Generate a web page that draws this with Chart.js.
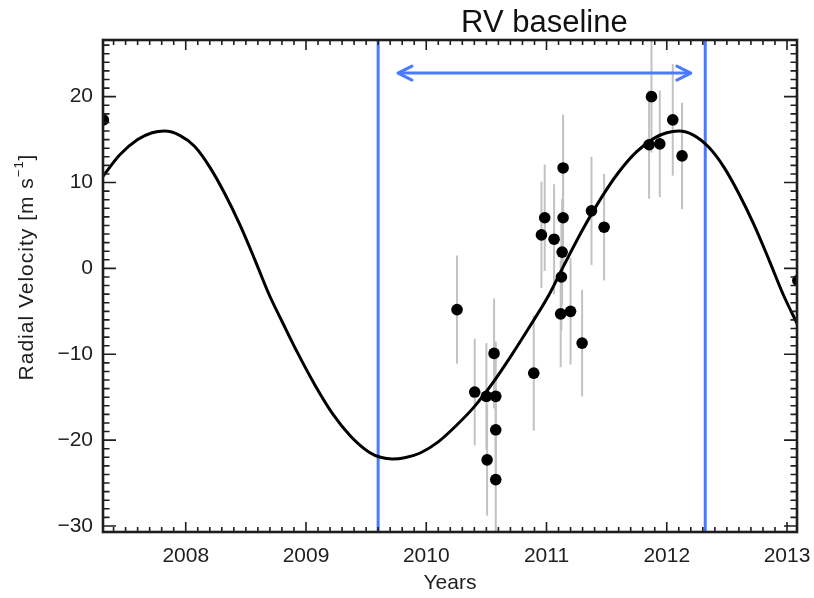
<!DOCTYPE html>
<html>
<head>
<meta charset="utf-8">
<title>RV baseline</title>
<script src="https://cdn.jsdelivr.net/npm/chart.js@4.4.1/dist/chart.umd.min.js"></script>
<style>
  html, body { margin: 0; padding: 0; background: #fff; }
  canvas { display: block; }
</style>
</head>
<body>
<canvas id="rv" width="814" height="598"></canvas>
<script>
// Observation epochs (decimal years), radial velocities and 1-sigma errors [m/s]
const obsYears = [2010.256, 2010.403, 2010.500, 2010.506, 2010.564, 2010.578, 2010.578, 2010.578,
                  2010.894, 2010.958, 2010.985, 2011.063, 2011.118, 2011.124, 2011.130, 2011.138,
                  2011.138, 2011.200, 2011.296, 2011.374, 2011.479, 2011.853, 2011.873, 2011.942,
                  2012.050, 2012.127];
const obsVelocity = [-4.8, -14.4, -14.9, -22.3, -9.9, -14.9, -18.8, -24.6,
                     -12.2, 3.9, 5.9, 3.4, -5.3, -1.0, 1.9, 5.9,
                     11.7, -5.0, -8.7, 6.7, 4.8, 14.4, 20.0, 14.5,
                     17.3, 13.1];
const obsError = [6.3, 6.2, 6.2, 6.5, 6.4, 6.4, 6.4, 6.5,
                  6.7, 6.2, 6.2, 6.4, 6.2, 6.2, 6.2, 6.2,
                  6.2, 6.2, 6.2, 6.3, 6.2, 6.3, 6.5, 6.2,
                  6.5, 6.2];

// Measurements sitting on the plot border (mostly outside the frame)
const edgeYears = [2007.315, 2013.09];
const edgeVelocity = [17.3, -1.4];

// Orbital solution sampled along time
const modelYears = [2007.31, 2007.45, 2007.60, 2007.72, 2007.825, 2007.95, 2008.075, 2008.20,
                    2008.325, 2008.45, 2008.575, 2008.695, 2008.805, 2008.925, 2009.075, 2009.225,
                    2009.375, 2009.525, 2009.62, 2009.72, 2009.82, 2009.95, 2010.10, 2010.25,
                    2010.40, 2010.55, 2010.70, 2010.85, 2011.02, 2011.15, 2011.30, 2011.45,
                    2011.60, 2011.75, 2011.90, 2012.00, 2012.10, 2012.225, 2012.35, 2012.475,
                    2012.60, 2012.725, 2012.85, 2012.97, 2013.09];
const modelVelocity = [10.7, 13.2, 15.0, 15.8, 16.0, 15.5, 14.2, 11.8,
                       8.7, 5.1, 1.0, -3.1, -6.3, -9.7, -13.6, -17.0,
                       -19.6, -21.4, -22.0, -22.2, -22.06, -21.5, -20.2, -18.3,
                       -16.1, -13.4, -10.3, -7.0, -3.1, 0.5, 4.5, 8.1,
                       11.2, 13.6, 15.2, 15.8, 16.0, 15.5, 14.1, 11.8,
                       8.7, 5.1, 1.0, -3.1, -6.6];

// Start and end of the RV baseline, and the arrow spanning it
const baselineEdges = [2009.60, 2012.32];
const arrowEnds = [2009.765, 2012.20];
const arrowLevel = 22.75;

// Axis ranges, labelled ticks and minor tick steps
const yearRange = [2007.312, 2013.083];
const velocityRange = [-30.7, 26.6];
const yearTicks = [2008, 2009, 2010, 2011, 2012, 2013];
const velocityTicks = [-30, -20, -10, 0, 10, 20];
const yearMinorStep = 0.1;
const velocityMinorStep = 1;

const FONT = '"Liberation Sans", Arial, Helvetica, sans-serif';
const INK = '#1e1e1e';
const BLUE = '#4a7bff';

// Gray error bars, drawn underneath everything else
const errorBars = {
  id: 'errorBars',
  beforeDatasetsDraw(chart) {
    const { ctx, chartArea: a, scales: { x, y } } = chart;
    ctx.save();
    ctx.beginPath();
    ctx.rect(a.left, a.top, a.right - a.left, a.bottom - a.top);
    ctx.clip();
    ctx.strokeStyle = '#c2c2c2';
    ctx.lineWidth = 2;
    obsYears.forEach((t, i) => {
      const px = x.getPixelForValue(t);
      ctx.beginPath();
      ctx.moveTo(px, y.getPixelForValue(obsVelocity[i] - obsError[i]));
      ctx.lineTo(px, y.getPixelForValue(obsVelocity[i] + obsError[i]));
      ctx.stroke();
    });
    ctx.restore();
  }
};

// Open chevron heads on both ends of the baseline arrow
const arrowHeads = {
  id: 'arrowHeads',
  afterDatasetsDraw(chart) {
    const { ctx, scales: { x, y } } = chart;
    const py = y.getPixelForValue(arrowLevel);
    ctx.save();
    ctx.strokeStyle = BLUE;
    ctx.lineWidth = 3;
    ctx.lineCap = 'round';
    ctx.lineJoin = 'round';
    [[x.getPixelForValue(arrowEnds[0]), 1], [x.getPixelForValue(arrowEnds[1]), -1]].forEach(([px, dir]) => {
      ctx.beginPath();
      ctx.moveTo(px + dir * 14, py - 7);
      ctx.lineTo(px, py);
      ctx.lineTo(px + dir * 14, py + 7);
      ctx.stroke();
    });
    ctx.restore();
  }
};

// Box frame with inward major/minor ticks on all four sides
const frameTicks = {
  id: 'frameTicks',
  afterDatasetsDraw(chart) {
    const { ctx, chartArea: a, scales: { x, y } } = chart;
    ctx.save();
    ctx.strokeStyle = INK;
    ctx.lineWidth = 1.6;
    ctx.beginPath();
    const x0 = Math.ceil(yearRange[0] / yearMinorStep);
    const x1 = Math.floor(yearRange[1] / yearMinorStep);
    for (let k = x0; k <= x1; k++) {
      const v = k * yearMinorStep;
      const px = x.getPixelForValue(v);
      const major = Math.abs(v - Math.round(v)) < 1e-6;
      const len = major ? 10 : 5;
      ctx.moveTo(px, a.bottom); ctx.lineTo(px, a.bottom - len);
      ctx.moveTo(px, a.top); ctx.lineTo(px, a.top + len);
    }
    const y0 = Math.ceil(velocityRange[0] / velocityMinorStep);
    const y1 = Math.floor(velocityRange[1] / velocityMinorStep);
    for (let k = y0; k <= y1; k++) {
      const v = k * velocityMinorStep;
      const py = y.getPixelForValue(v);
      const major = v % 10 === 0;
      const len = major ? 13 : 6.5;
      ctx.moveTo(a.left, py); ctx.lineTo(a.left + len, py);
      ctx.moveTo(a.right, py); ctx.lineTo(a.right - len, py);
    }
    ctx.stroke();
    ctx.lineWidth = 2.6;
    ctx.strokeRect(a.left, a.top, a.right - a.left, a.bottom - a.top);
    ctx.restore();
  }
};

// Plot title and axis titles
const captions = {
  id: 'captions',
  afterDraw(chart) {
    const { ctx, chartArea: a, scales: { x } } = chart;
    ctx.save();
    ctx.fillStyle = '#111';
    ctx.textAlign = 'center';
    ctx.textBaseline = 'alphabetic';
    ctx.font = `31px ${FONT}`;
    const mid = x.getPixelForValue((arrowEnds[0] + arrowEnds[1]) / 2);
    ctx.fillText('RV baseline', mid, 32);

    ctx.fillStyle = INK;
    ctx.font = `21px ${FONT}`;
    ctx.textBaseline = 'middle';
    ctx.fillText('Years', (a.left + a.right) / 2, 583);

    // rotated velocity label with a superscript exponent
    ctx.translate(27, 267);
    ctx.rotate(-Math.PI / 2);
    ctx.textAlign = 'left';
    ctx.letterSpacing = '1px';
    const main = 'Radial Velocity [m s', sup = '−1', close = ']';
    ctx.font = `21px ${FONT}`;
    const wMain = ctx.measureText(main).width;
    const wClose = ctx.measureText(close).width;
    ctx.font = `13px ${FONT}`;
    const wSup = ctx.measureText(sup).width;
    let cx = -(wMain + wSup + wClose) / 2;
    ctx.font = `21px ${FONT}`;
    ctx.fillText(main, cx, 0);
    cx += wMain;
    ctx.font = `13px ${FONT}`;
    ctx.fillText(sup, cx, -8);
    cx += wSup;
    ctx.font = `21px ${FONT}`;
    ctx.fillText(close, cx, 0);
    ctx.restore();
  }
};

const toPoints = (xs, ys) => xs.map((t, i) => ({ x: t, y: ys[i] }));

new Chart(document.getElementById('rv'), {
  type: 'scatter',
  data: {
    datasets: [
      {
        label: 'RV data',
        data: toPoints(obsYears.concat(edgeYears), obsVelocity.concat(edgeVelocity)),
        backgroundColor: '#000',
        borderWidth: 0,
        pointRadius: 5.8,
        clip: 0,
        order: 0
      },
      {
        label: 'Orbit',
        data: toPoints(modelYears, modelVelocity),
        showLine: true,
        borderColor: '#000',
        borderWidth: 3,
        pointRadius: 0,
        cubicInterpolationMode: 'monotone',
        clip: 1,
        order: 1
      },
      {
        label: 'Baseline arrow',
        data: toPoints(arrowEnds, [arrowLevel, arrowLevel]),
        showLine: true,
        borderColor: BLUE,
        borderWidth: 3,
        pointRadius: 0,
        order: 2
      },
      {
        label: 'Baseline start',
        data: toPoints([baselineEdges[0], baselineEdges[0]], velocityRange),
        showLine: true,
        borderColor: BLUE,
        borderWidth: 3,
        pointRadius: 0,
        order: 3
      },
      {
        label: 'Baseline end',
        data: toPoints([baselineEdges[1], baselineEdges[1]], velocityRange),
        showLine: true,
        borderColor: BLUE,
        borderWidth: 3,
        pointRadius: 0,
        order: 3
      }
    ]
  },
  options: {
    responsive: false,
    animation: false,
    devicePixelRatio: 1,
    events: [],
    layout: { padding: { top: 40, right: 17, left: 0, bottom: 0 } },
    plugins: { legend: { display: false }, tooltip: { enabled: false } },
    scales: {
      x: {
        type: 'linear',
        min: yearRange[0],
        max: yearRange[1],
        grid: { display: false, drawTicks: false },
        border: { display: false },
        afterBuildTicks: s => { s.ticks = yearTicks.map(v => ({ value: v })); },
        afterFit: s => { s.height = 66; s.paddingLeft = 0; s.paddingRight = 0; },
        ticks: {
          padding: 12,
          autoSkip: false,
          maxRotation: 0,
          color: INK,
          font: { family: FONT, size: 21 },
          callback: v => String(v)
        }
      },
      y: {
        type: 'linear',
        min: velocityRange[0],
        max: velocityRange[1],
        grid: { display: false, drawTicks: false },
        border: { display: false },
        afterBuildTicks: s => { s.ticks = velocityTicks.map(v => ({ value: v })); },
        afterFit: s => { s.width = 103; s.paddingTop = 0; s.paddingBottom = 0; },
        ticks: {
          padding: 10,
          autoSkip: false,
          color: INK,
          font: { family: FONT, size: 21 },
          callback: v => (v < 0 ? '−' + Math.abs(v) : String(v))
        }
      }
    }
  },
  plugins: [errorBars, arrowHeads, frameTicks, captions]
});
</script>
</body>
</html>
